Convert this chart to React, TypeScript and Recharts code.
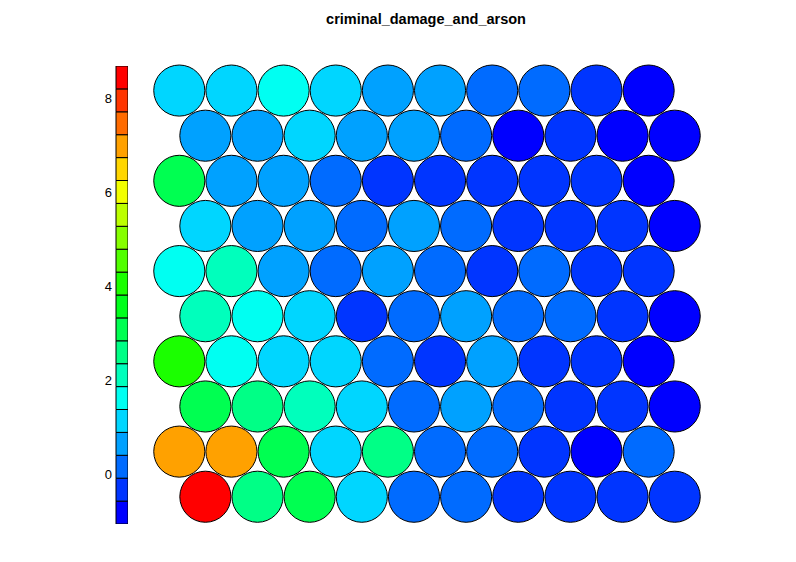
import { ScatterChart, Scatter, XAxis, YAxis, ReferenceArea } from 'recharts'

// SOM node values, top row first (10 rows x 10 nodes)
const rowValues: number[][] = [
  [1.13, 1.13, 1.62, 1.13, 0.64, 0.64, 0.16, 0.16, -0.33, -0.82],
  [0.64, 0.64, 1.13, 0.64, 0.64, 0.16, -0.82, -0.33, -0.82, -0.82],
  [3.08, 0.64, 0.64, 0.16, -0.33, -0.33, -0.33, -0.33, -0.33, -0.82],
  [1.13, 0.64, 0.64, 0.16, 0.64, 0.16, -0.33, -0.33, -0.33, -0.82],
  [1.62, 2.1, 0.64, 0.16, 0.64, 0.16, -0.33, 0.16, -0.33, -0.33],
  [2.1, 1.62, 1.13, -0.33, 0.16, 0.64, 0.16, 0.16, -0.33, -0.82],
  [4.05, 1.62, 1.13, 1.13, 0.16, -0.33, 0.64, -0.33, -0.33, -0.82],
  [3.08, 2.59, 2.1, 1.13, 0.16, 0.64, 0.16, -0.33, -0.33, -0.82],
  [6.98, 6.98, 3.08, 1.13, 2.59, 0.16, 0.16, -0.33, -0.82, 0.16],
  [8.44, 2.59, 3.08, 1.13, 0.16, 0.16, -0.33, -0.33, -0.33, -0.33],
]

// colour key: range and palette (blue -> red)
const scaleMin = -1.06
const scaleMax = 8.68
const scaleTicks = [0, 2, 4, 6, 8]
const palette = [
  '#0000FF', '#0035FF', '#006BFF', '#00A1FF', '#00D6FF',
  '#00FFF2', '#00FFBC', '#00FF86', '#00FF51', '#00FF1B',
  '#1BFF00', '#51FF00', '#86FF00', '#BCFF00', '#F2FF00',
  '#FFD600', '#FFA100', '#FF6B00', '#FF3500', '#FF0000',
]

const title = 'criminal_damage_and_arson'

const binWidth = (scaleMax - scaleMin) / palette.length
const colorFor = (v: number) => {
  const k = Math.min(palette.length - 1, Math.max(0, Math.floor((v - scaleMin) / binWidth)))
  return palette[k]
}

const nRows = rowValues.length
const nodes = rowValues.flatMap((row, i) => {
  const r = nRows - 1 - i // row index from bottom
  return row.map((value, j) => ({
    x: j + 1 + (r % 2 === 0 ? 0.5 : 0),
    y: r * Math.sqrt(3) / 2,
    value,
  }))
})

const bins = palette.map((color, k) => ({
  color,
  lo: scaleMin + k * binWidth,
  hi: Math.min(scaleMax, scaleMin + (k + 1) * binWidth),
}))

const xDomain: [number, number] = [0.4, 11.1]
const yDomain: [number, number] = [-0.6, 8.4]
const plotW = 558
const plotH = 469
const unit = plotW / (xDomain[1] - xDomain[0])
const font = '"Liberation Sans", Arial, sans-serif'

function Node(props: any) {
  const { cx, cy, payload } = props
  return <circle cx={cx} cy={cy} r={unit * 0.49} fill={colorFor(payload.value)} stroke="#000" strokeWidth={1} />
}

export default function App() {
  return (
    <div style={{ position: 'absolute', left: 0, top: 0, width: 796, height: 562, background: '#fff', fontFamily: font }}>
      <div style={{ position: 'absolute', left: 226, width: 400, top: 11, textAlign: 'center', fontWeight: 'bold', fontSize: 14.5 }}>
        {title}
      </div>

      <div style={{ position: 'absolute', left: 76, top: 66 }}>
        <ScatterChart width={52} height={458} margin={{ top: 0, right: 0, bottom: 0, left: 0 }}>
          <XAxis dataKey="x" type="number" domain={[0, 1]} hide />
          <YAxis
            dataKey="y"
            type="number"
            domain={[scaleMin, scaleMax]}
            ticks={scaleTicks}
            width={40}
            axisLine={false}
            tickLine={false}
            tickSize={0}
            tickMargin={4}
            tick={{ fill: '#000', fontSize: 13, fontFamily: font }}
          />
          <Scatter data={[{ x: 0.5, y: 0 }]} fill="none" isAnimationActive={false} />
          {bins.map((b) => (
            <ReferenceArea key={b.color} x1={0} x2={1} y1={b.lo} y2={b.hi} fill={b.color} fillOpacity={1} stroke="#000" strokeWidth={1} ifOverflow="visible" />
          ))}
        </ScatterChart>
      </div>

      <div style={{ position: 'absolute', left: 148, top: 59 }}>
        <ScatterChart width={plotW} height={plotH} margin={{ top: 0, right: 0, bottom: 0, left: 0 }}>
          <XAxis dataKey="x" type="number" domain={xDomain} hide />
          <YAxis dataKey="y" type="number" domain={yDomain} hide />
          <Scatter data={nodes} shape={<Node />} isAnimationActive={false} />
        </ScatterChart>
      </div>
    </div>
  )
}
